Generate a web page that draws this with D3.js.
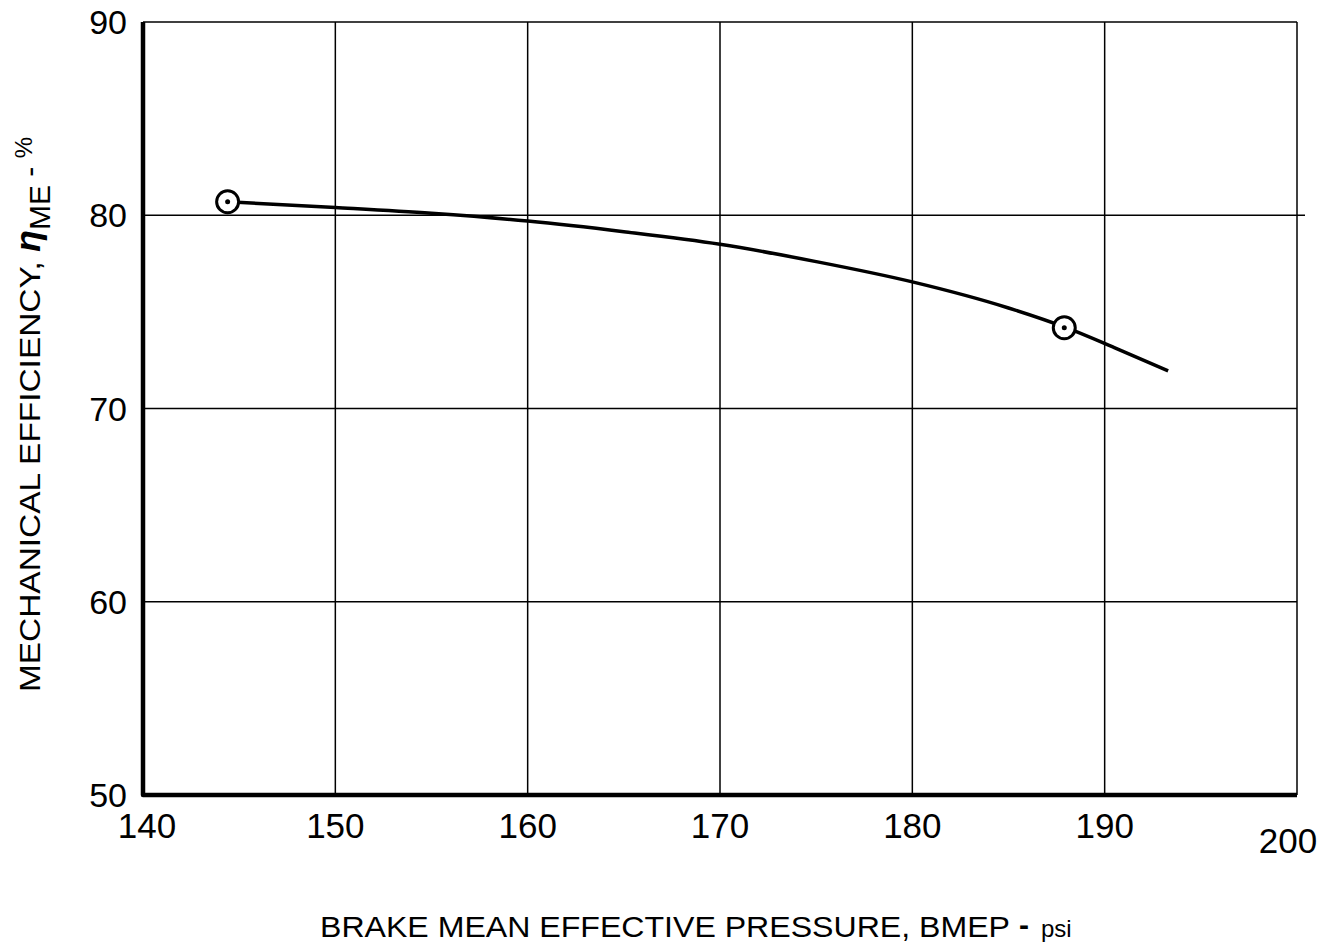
<!DOCTYPE html>
<meta charset="utf-8">
<script src="https://d3js.org/d3.v7.min.js"></script>
<style>
  body { margin: 0; background: #fff; }
  svg { display: block; }
  .tick-label { font-family: 'Liberation Sans', Arial, sans-serif; fill: #000; }
  .axis-title { font-family: 'Liberation Sans', Arial, sans-serif; fill: #000; }
  .grid { stroke: #000; stroke-width: 1.5; }
</style>
<div id="chart"></div>
<script>
// data
var xTicks = [140, 150, 160, 170, 180, 190, 200];
var yTicks = [50, 60, 70, 80, 90];
var curveX = [144.4, 150, 155, 160, 165, 170, 175, 180, 185, 188, 190.5, 193.3];
var curveY = [80.7, 80.4, 80.1, 79.7, 79.15, 78.5, 77.6, 76.55, 75.2, 74.18, 73.15, 71.95];
var pointX = [144.4, 187.9];
var pointY = [80.7, 74.18];

var W = 1333, H = 950;
var svg = d3.select("#chart").append("svg")
    .attr("width", W).attr("height", H);

var x = d3.scaleLinear().domain([140, 200]).range([143, 1297]);
var y = d3.scaleLinear().domain([50, 90]).range([795, 22]);

// grid
svg.selectAll("line.vgrid").data(xTicks.slice(1))
  .enter().append("line").attr("class", "grid")
    .attr("x1", function(d) { return x(d); }).attr("x2", function(d) { return x(d); })
    .attr("y1", y(90)).attr("y2", y(50));
svg.selectAll("line.hgrid").data(yTicks.slice(1))
  .enter().append("line").attr("class", "grid")
    .attr("x1", x(140)).attr("x2", function(d) { return d == 80 ? x(200) + 8 : x(200); })
    .attr("y1", function(d) { return y(d); }).attr("y2", function(d) { return y(d); });

// heavy left and bottom axes
svg.append("path")
    .attr("d", "M" + x(140) + "," + y(90) + "V" + y(50) + "H" + x(200))
    .attr("fill", "none").attr("stroke", "#000").attr("stroke-width", 4.5)
    .attr("stroke-linejoin", "round");

// tick labels
svg.selectAll("text.yt").data(yTicks)
  .enter().append("text").attr("class", "tick-label")
    .attr("x", x(140) - 16).attr("y", function(d) { return y(d) + 12; })
    .attr("text-anchor", "end").style("font-size", "34px")
    .text(function(d) { return d; });
svg.selectAll("text.xt").data(xTicks)
  .enter().append("text").attr("class", "tick-label")
    .attr("x", function(d) { return d == 140 ? x(d) + 4 : d == 200 ? x(d) - 9 : x(d); })
    .attr("y", function(d) { return d == 200 ? 853 : 838; })
    .attr("text-anchor", "middle").style("font-size", "35px")
    .text(function(d) { return d; });

// axis titles
svg.append("text").attr("class", "axis-title")
    .attr("x", 320).attr("y", 937)
    .attr("textLength", 690).attr("lengthAdjust", "spacingAndGlyphs")
    .style("font-size", "30px")
    .text("BRAKE MEAN EFFECTIVE PRESSURE, BMEP");
svg.append("text").attr("class", "axis-title")
    .attr("x", 1019).attr("y", 935)
    .style("font-size", "30px").style("font-weight", "bold")
    .text("-");
svg.append("text").attr("class", "axis-title")
    .attr("x", 1041).attr("y", 937)
    .style("font-size", "24px")
    .text("psi");

var yl = svg.append("text").attr("class", "axis-title")
    .attr("transform", "translate(40,692) rotate(-90)")
    .style("font-size", "30px");
yl.append("tspan").attr("textLength", 440).attr("lengthAdjust", "spacingAndGlyphs")
    .text("MECHANICAL EFFICIENCY, ");
yl.append("tspan").style("font-style", "italic").style("font-weight", "bold")
    .style("font-size", "36px").text("\u03B7");
yl.append("tspan").attr("dy", 10).style("font-size", "30px").text("ME");
yl.append("tspan").attr("dy", -10).text(" - ");
yl.append("tspan").attr("dy", -8).style("font-size", "24px").text("%");

// curve
var line = d3.line()
    .x(function(d) { return x(d[0]); })
    .y(function(d) { return y(d[1]); })
    .curve(d3.curveMonotoneX);
svg.append("path")
    .datum(d3.zip(curveX, curveY))
    .attr("d", line)
    .attr("fill", "none").attr("stroke", "#000").attr("stroke-width", 3.5);

// data points: open circle with center dot
var pts = d3.zip(pointX, pointY);
svg.selectAll("circle.pt").data(pts)
  .enter().append("circle")
    .attr("cx", function(d) { return x(d[0]); }).attr("cy", function(d) { return y(d[1]); })
    .attr("r", 11).attr("fill", "#fff").attr("stroke", "#000").attr("stroke-width", 3);
svg.selectAll("circle.dot").data(pts)
  .enter().append("circle")
    .attr("cx", function(d) { return x(d[0]); }).attr("cy", function(d) { return y(d[1]); })
    .attr("r", 2.5).attr("fill", "#000");
</script>
